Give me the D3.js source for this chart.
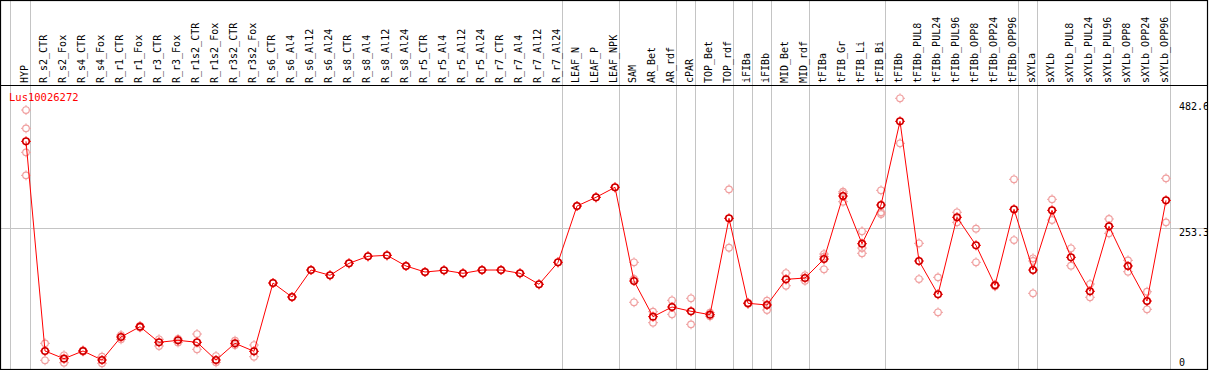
<!DOCTYPE html>
<html><head><meta charset="utf-8">
<script src="https://cdn.jsdelivr.net/npm/d3@7"></script>
<style>body{margin:0;background:#fff} text{font-family:"DejaVu Sans Mono",monospace;font-size:10px}</style>
</head><body><svg id="c" width="1209" height="370"></svg>
<script>
const title = "Lus10026272";
const categories = ["HYP","R_s2_CTR","R_s2_Fox","R_s4_CTR","R_s4_Fox","R_r1_CTR","R_r1_Fox","R_r3_CTR","R_r3_Fox",
 "R_r1s2_CTR","R_r1s2_Fox","R_r3s2_CTR","R_r3s2_Fox","R_s6_CTR","R_s6_Al4","R_s6_Al12","R_s6_Al24",
 "R_s8_CTR","R_s8_Al4","R_s8_Al12","R_s8_Al24","R_r5_CTR","R_r5_Al4","R_r5_Al12","R_r5_Al24",
 "R_r7_CTR","R_r7_Al4","R_r7_Al12","R_r7_Al24","LEAF_N","LEAF_P","LEAF_NPK","SAM","AR_Bet","AR_rdf",
 "cPAR","TOP_Bet","TOP_rdf","iFIBa","iFIBb","MID_Bet","MID_rdf","tFIBa","tFIB_Gr","tFIB_Li","tFIB_Bi",
 "tFIBb","tFIBb_PUL8","tFIBb_PUL24","tFIBb_PUL96","tFIBb_OPP8","tFIBb_OPP24","tFIBb_OPP96",
 "sXYLa","sXYLb","sXYLb_PUL8","sXYLb_PUL24","sXYLb_PUL96","sXYLb_OPP8","sXYLb_OPP24","sXYLb_OPP96"];
const groupSizes = [1,28,3,3,1,2,1,1,2,4,7,1,7];
const means = [406.7,36.9,23.3,36.9,21,61.6,79.7,52.2,55.7,52.2,21,50.4,36.3,
 156.8,132.1,179.7,170.4,191.5,203.9,205.6,186.8,176.2,179.2,173.9,179.7,179.7,173.9,154.5,193.3,
 292.6,307.9,325.6,160.3,97.4,114.5,106.9,100.9,270.9,121,118,163.3,165.6,199.1,310.2,226.1,294.4,
 442,195.6,136.9,272.7,223.3,152.7,286.8,179.7,285,202.1,142.2,256.8,186.8,125,302.6];
const replicates = [[461.9,429.6,387.3,346.7],[50.4,20.5],[29.3,16.2],[38,36],[26.8,15.2],[65,57.5],[81,78.5],
 [57.5,45.7],[58,52],[66.8,39.8],[28,16.9],[55,47.4],[47.4,26.8],
 [156.8],[132.1],[179.7],[170.4],[191.5],[203.9],[205.6],[186.8],[176.2],[179.2],[173.9],[179.7],[179.7],[173.9],[154.5],[193.3],
 [292.6],[307.9],[325.6],[193.3,164,122.8],[106.2,86.8],[126.3,101.6],[129.8,83.9],[104.4,98],[322,219],[122,120],
 [125.6,109.2,119],[174.4,152],[170.4,160.8],[207.9,203.2,181],[317.8,315,300.2],[248,218.5,209.2],[320.3,281.5,278.5],
 [482.6,403.2],[226.8,163.8],[166.8,105.1],[281.5,263.8],[252.6,193.3],[154,151],[339.7,232.6],
 [200.4,195.6,138.6],[304.4,267.9],[218,187.3],[155,131.6],[269.7,244.4],[196.8,176.7],[141.4,110.4],[341.4,263.8]];
const yTickValues = [0, 253.3, 482.6];
const yGridValues = [253.3];

const W = 1209, H = 370, headerBottom = 85.5, bottom = 369.5, right = 1207.5;
const svg = d3.select("#c");
const x = d3.scaleBand().domain(categories).range([11.5, 11.5 + 19 * categories.length]);
const px = c => x(c) + 14.5;
const y = d3.scaleLinear().domain([0, 482.6]).range([371.9, 98.3]);

svg.append("rect").attr("width", W).attr("height", H).attr("fill", "#fff");
svg.append("clipPath").attr("id", "inner").append("rect").attr("x", 0).attr("y", 0).attr("width", 1207).attr("height", 369);

// group separators
const bounds = [x(categories[0]) - 1];
let acc = 0;
groupSizes.forEach(s => { acc += s; bounds.push(x(categories[acc - 1]) + x.bandwidth()); });
svg.append("g").selectAll("line").data(bounds).join("line")
  .attr("x1", d => d).attr("x2", d => d).attr("y1", 0).attr("y2", bottom)
  .attr("stroke", "#c4c4c4").attr("stroke-width", 1);

// horizontal grid
svg.append("g").selectAll("line").data(yGridValues).join("line")
  .attr("x1", 0).attr("x2", right).attr("y1", d => Math.round(y(d)) + 0.5).attr("y2", d => Math.round(y(d)) + 0.5)
  .attr("stroke", "#c4c4c4").attr("stroke-width", 1);

// category labels
svg.append("g").selectAll("text").data(categories).join("text")
  .attr("transform", d => `translate(${px(d) + 2},83) rotate(-90)`)
  .attr("text-anchor", "start").attr("fill", "#000").text(d => d);

// title
svg.append("text").attr("x", 9).attr("y", 101).attr("fill", "#f00").style("font-size", "10.5px").text(title);

// y labels
svg.append("g").attr("clip-path", "url(#inner)").selectAll("text").data(yTickValues).join("text")
  .attr("x", 1179).attr("y", d => Math.max(110, Math.min(366, y(d) + 8)))
  .attr("fill", "#000").text(d => d === 0 ? "0" : d3.format(".1f")(d));

function marker(g, cx, cy, color, sw) {
  g.append("circle").attr("cx", cx).attr("cy", cy).attr("r", 3.3)
    .attr("fill", "none").attr("stroke", color).attr("stroke-width", sw);
  [[0,-1],[0,1],[-1,0],[1,0]].forEach(([dx, dy]) => {
    g.append("line").attr("x1", cx + dx * 3.3).attr("y1", cy + dy * 3.3)
      .attr("x2", cx + dx * 5).attr("y2", cy + dy * 5).attr("stroke", color).attr("stroke-width", 1);
  });
}

// replicates
const gr = svg.append("g");
categories.forEach((c, i) => replicates[i].forEach(v => marker(gr, px(c), y(v), "#f0a0a0", 1.2)));

// mean line
svg.append("path").datum(means)
  .attr("d", d3.line().x((d, i) => px(categories[i])).y(d => y(d)))
  .attr("fill", "none").attr("stroke", "#f00").attr("stroke-width", 1);

// means
const gm = svg.append("g");
categories.forEach((c, i) => {
  marker(gm, px(c), y(means[i]), "#f00", 1.6);
  gm.append("circle").attr("cx", px(c)).attr("cy", y(means[i])).attr("r", 3.3)
    .attr("fill", "none").attr("stroke", "#600").attr("stroke-width", 0.5);
});

// header line and border (on top)
svg.append("line").attr("x1", 0).attr("x2", right).attr("y1", headerBottom).attr("y2", headerBottom)
  .attr("stroke", "#000").attr("stroke-width", 1.2);
svg.append("rect").attr("x", 0.5).attr("y", 0.5).attr("width", right - 0.5).attr("height", bottom - 0.5)
  .attr("fill", "none").attr("stroke", "#000").attr("stroke-width", 1.2);
</script></body></html>
